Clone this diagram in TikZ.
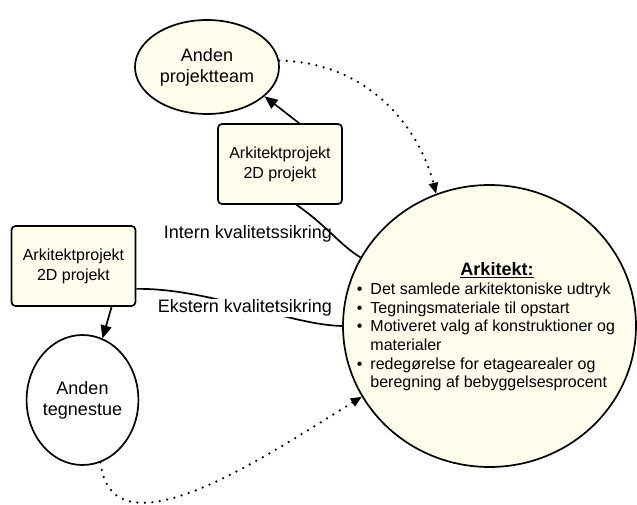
\documentclass[tikz,border=0pt]{standalone}
\usepackage{fontspec}
\setmainfont{Liberation Sans}
\usetikzlibrary{shapes.geometric,arrows.meta}
\definecolor{cream}{RGB}{254,252,234}
\begin{document}
\begin{tikzpicture}[x=1pt,y=-1pt,
  line width=1.7pt,
  bubble/.style={ellipse,draw=black,inner sep=0pt,align=center,
    font=\fontsize{18}{21}\selectfont},
  cardbox/.style={rectangle,rounded corners=4pt,draw=black,fill=cream,
    minimum width=124pt,minimum height=80pt,inner sep=0pt,align=center,
    font=\fontsize{16}{20}\selectfont},
  tagtext/.style={font=\fontsize{18}{21}\selectfont,inner sep=1pt},
  solidarr/.style={-{Triangle[length=13pt,width=11pt]}},
  dotarr/.style={line width=2.5pt,line cap=round,dash pattern=on 0pt off 7.5pt,
    -{Triangle[length=11pt,width=9pt]}},
]
\useasboundingbox (0,0) rectangle (637,505);

% nodes
\node[bubble,fill=cream,minimum width=144pt,minimum height=94pt] (team) at (207,67) {Anden\\projektteam};
\node[bubble,fill=white,minimum width=102pt,minimum height=130pt] (studio) at (82.5,400) {Anden\\tegnestue};
\node[bubble,fill=cream,minimum width=293pt,minimum height=282pt] (ark) at (489.5,326) {};
\node[cardbox] (topcard) at (280,164) {Arkitektprojekt\\2D projekt};
\node[cardbox] (leftcard) at (73.5,266) {Arkitektprojekt\\2D projekt};

% contents of the architect circle
\node[font=\fontsize{18}{21}\selectfont\bfseries,inner sep=0pt] (arktitle) at (497,270) {\underline{Arkitekt:}};
\node[anchor=north west,inner sep=0pt,font=\fontsize{16}{18.7}\selectfont] (arklist) at (356,280.5)
  {\begin{tabular}{@{}l@{\hspace{8pt}}l@{}}
   \textbullet & Det samlede arkitektoniske udtryk\\
   \textbullet & Tegningsmateriale til opstart\\
   \textbullet & Motiveret valg af konstruktioner og\\
               & materialer\\
   \textbullet & redegørelse for etagearealer og\\
               & beregning af bebyggelsesprocent
   \end{tabular}};

% connectors
\draw[solidarr] (topcard.65) -- (team.-27);
\draw[dotarr] (team.5) .. controls (370,62) and (420,130) .. (ark.112);
\draw (topcard.-68) .. controls (326,225) and (340,245) .. (ark.152);
\draw (leftcard.-20) .. controls (210,288) and (290,325) .. (ark.west);
\draw[solidarr] (leftcard.-47.6) -- (studio.72);
\draw[dotarr] (studio.-74) .. controls (112,562) and (272,452) .. (ark.209);

% connector labels
\node[tagtext] (internlbl) at (248,234) {Intern kvalitetssikring};
\node[tagtext,fill=white] (eksternlbl) at (245,308) {Ekstern kvalitetsikring};
\end{tikzpicture}
\end{document}
